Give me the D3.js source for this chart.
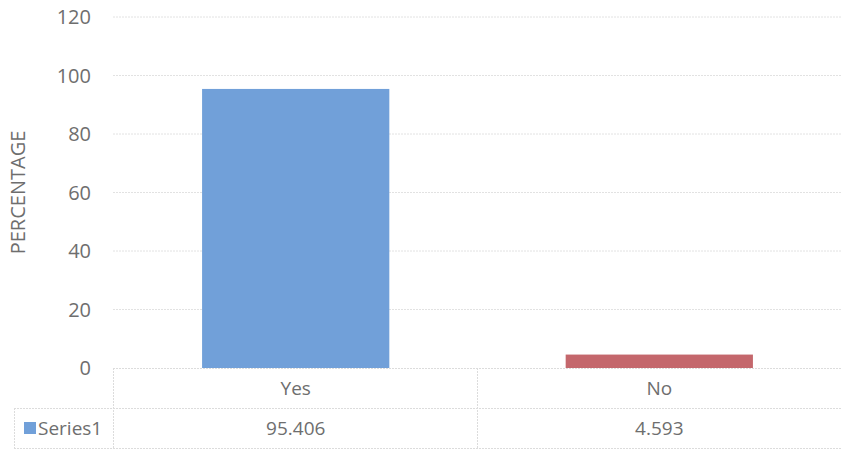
<!DOCTYPE html>
<html>
<head>
<meta charset="utf-8">
<script src="https://cdn.jsdelivr.net/npm/d3@7"></script>
<style>
  body { margin: 0; background: #fff; }
  text { font-family: "Open Sans", sans-serif; fill: #6e6e6e; }
</style>
</head>
<body>
<div id="chart"></div>
<script>
const categories = ["Yes", "No"];
const values = [95.406, 4.593];
const valueLabels = ["95.406", "4.593"];
const seriesName = "Series1";
const yTicks = [0, 20, 40, 60, 80, 100, 120];

const width = 842;
const height = 461;
const margin = { top: 17, right: 0, bottom: 93, left: 113 };
const rowHeight = 40;
const legendLeft = 14;

const barColors = ["#71a0d9", "#c4676c"];

const svg = d3.select("#chart")
    .append("svg")
    .attr("width", width)
    .attr("height", height);

const x = d3.scaleBand()
    .domain(categories)
    .range([margin.left, width - margin.right])
    .paddingInner(0.485)
    .paddingOuter(0.245);

const y = d3.scaleLinear()
    .domain([0, 120])
    .range([height - margin.bottom, margin.top]);

// gridlines
svg.append("g")
    .selectAll("line")
    .data(yTicks.slice(1))
    .enter()
    .append("line")
    .attr("x1", margin.left)
    .attr("x2", width - margin.right)
    .attr("y1", d => y(d))
    .attr("y2", d => y(d))
    .attr("stroke", "#e2e2e2")
    .attr("stroke-dasharray", "2,1");

// y tick labels
svg.append("g")
    .selectAll("text")
    .data(yTicks)
    .enter()
    .append("text")
    .attr("x", 91)
    .attr("y", d => y(d))
    .attr("dy", "0.35em")
    .attr("text-anchor", "end")
    .style("font-size", "20px")
    .text(d => d);

// y axis title
svg.append("text")
    .attr("transform", `translate(25, ${(y(0) + y(120)) / 2}) rotate(-90)`)
    .attr("text-anchor", "middle")
    .style("font-size", "20px")
    .text("PERCENTAGE");

// bars
svg.append("g")
    .selectAll("rect")
    .data(values)
    .enter()
    .append("rect")
    .attr("x", (d, i) => x(categories[i]))
    .attr("y", d => y(d))
    .attr("width", x.bandwidth())
    .attr("height", d => y(0) - y(d))
    .attr("fill", (d, i) => barColors[i]);

// data table
const table = svg.append("g");
const top0 = y(0);
const lineColor = "#dcdcdc";

function hline(x1, x2, yy) {
    table.append("line").attr("x1", x1).attr("x2", x2).attr("y1", yy).attr("y2", yy)
        .attr("stroke", lineColor).attr("stroke-dasharray", "2,1");
}
function vline(xx, y1, y2) {
    table.append("line").attr("x1", xx).attr("x2", xx).attr("y1", y1).attr("y2", y2)
        .attr("stroke", lineColor).attr("stroke-dasharray", "2,1");
}

hline(margin.left, width, top0 + 0.5);
hline(legendLeft, width, top0 + rowHeight + 0.5);
hline(legendLeft, width, top0 + 2 * rowHeight + 0.5);
vline(legendLeft + 0.5, top0 + rowHeight, top0 + 2 * rowHeight);
vline(margin.left + 0.5, top0, top0 + 2 * rowHeight);
categories.forEach((c, i) => {
    if (i > 0) vline(Math.round(x(c) - x.step() * x.paddingInner() / 2) + 0.5, top0, top0 + 2 * rowHeight);
});

table.selectAll("text.cat")
    .data(categories)
    .enter()
    .append("text")
    .attr("class", "cat")
    .attr("x", d => x(d) + x.bandwidth() / 2)
    .attr("y", top0 + rowHeight / 2)
    .attr("dy", "0.35em")
    .attr("text-anchor", "middle")
    .style("font-size", "19px")
    .text(d => d);

table.selectAll("text.val")
    .data(valueLabels)
    .enter()
    .append("text")
    .attr("class", "val")
    .attr("x", (d, i) => x(categories[i]) + x.bandwidth() / 2)
    .attr("y", top0 + rowHeight * 1.5)
    .attr("dy", "0.35em")
    .attr("text-anchor", "middle")
    .style("font-size", "19px")
    .text(d => d);

// legend key
table.append("rect")
    .attr("x", 24)
    .attr("y", top0 + rowHeight * 1.5 - 6)
    .attr("width", 12)
    .attr("height", 12)
    .attr("fill", barColors[0]);

table.append("text")
    .attr("x", 38)
    .attr("y", top0 + rowHeight * 1.5)
    .attr("dy", "0.35em")
    .style("font-size", "19px")
    .text(seriesName);
</script>
</body>
</html>
